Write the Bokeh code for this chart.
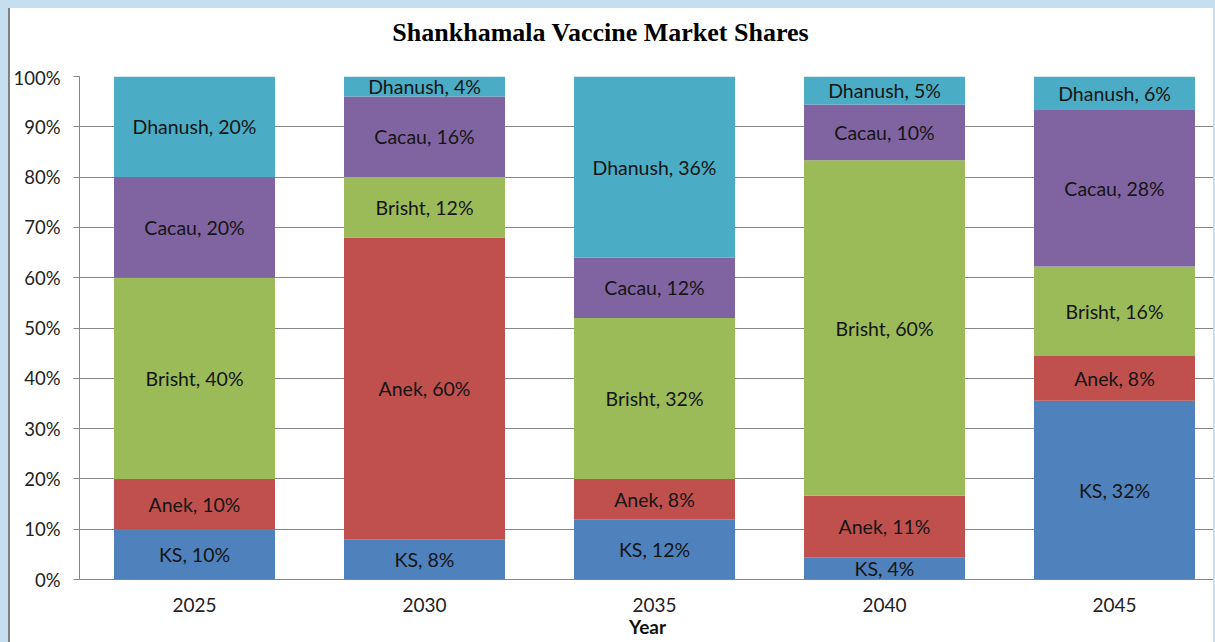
from bokeh.plotting import figure
from bokeh.layouts import column
from bokeh.models import (Range1d, FixedTicker, NumeralTickFormatter, ColumnDataSource,
                          GlobalInlineStyleSheet, Div)
from bokeh.core.properties import value
from bokeh.embed import file_html
from bokeh.resources import INLINE

title = "Shankhamala Vaccine Market Shares"
years = ["2025", "2030", "2035", "2040", "2045"]
series = ["KS", "Anek", "Brisht", "Cacau", "Dhanush"]
ks = [10, 8, 12, 4, 32]
anek = [10, 60, 8, 11, 8]
brisht = [40, 12, 32, 60, 16]
cacau = [20, 16, 12, 10, 28]
dhanush = [20, 4, 36, 5, 6]
colors = ["#4f81bd", "#c0504d", "#9bbb59", "#8064a2", "#4bacc6"]
yticks = [0, 0.1, 0.2, 0.3, 0.4, 0.5, 0.6, 0.7, 0.8, 0.9, 1.0]

values = [ks, anek, brisht, cacau, dhanush]
totals = [sum(v[i] for v in values) for i in range(len(years))]
xs = list(range(len(years)))

FONT = "Lato"

head = Div(text=(f'<div style="width:1181px;text-align:center;padding-top:10px;'
                 f'font-family:\'Liberation Serif\';font-weight:bold;font-size:26px;'
                 f'line-height:30px;color:#000000;">{title}</div>'),
           width=1205, height=58, margin=0,
           styles={"border-left": "2px solid #808080", "background-color": "white"})

p = figure(width=1205, height=576, output_backend="svg", toolbar_location=None,
           x_range=Range1d(-0.5, -0.5 + 1136 / 230), y_range=Range1d(0, 1),
           min_border_left=69, min_border_right=0, min_border_top=10, min_border_bottom=63)
p.styles = {"border-left": "2px solid #808080"}
p.background_fill_color = "white"
p.border_fill_color = "white"
p.outline_line_color = None

bottoms = [0.0] * len(years)
for name, vals, col in zip(series, values, colors):
    shares = [v / t for v, t in zip(vals, totals)]
    tops = [b + s for b, s in zip(bottoms, shares)]
    mids = [(b + t) / 2 for b, t in zip(bottoms, tops)]
    labels = [f"{name}, {v}%" for v in vals]
    src = ColumnDataSource(dict(x=xs, bottom=bottoms, top=tops, mid=mids, label=labels))
    p.vbar(x="x", width=0.7, bottom="bottom", top="top", source=src,
           fill_color=col, line_color=None)
    p.text(x="x", y="mid", text="label", source=src, text_align="center",
           text_baseline="middle", text_font=value(FONT), text_font_size="19.5px",
           text_color="#151515")
    bottoms = tops

p.xgrid.grid_line_color = None
p.ygrid.grid_line_color = "#878787"
p.ygrid.grid_line_width = 1
p.ygrid.ticker = FixedTicker(ticks=yticks)

p.yaxis.ticker = FixedTicker(ticks=yticks)
p.yaxis.formatter = NumeralTickFormatter(format="0%")
p.yaxis.axis_line_color = "#878787"
p.yaxis.major_tick_line_color = "#878787"
p.yaxis.major_tick_out = 6
p.yaxis.major_tick_in = 0
p.yaxis.minor_tick_line_color = None
p.yaxis.major_label_standoff = 13
p.yaxis.major_label_text_font = FONT
p.yaxis.major_label_text_font_size = "18.5px"
p.yaxis.major_label_text_color = "#222222"

p.xaxis.ticker = FixedTicker(ticks=xs)
p.xaxis.major_label_overrides = {i: y for i, y in enumerate(years)}
p.xaxis.axis_line_color = "#878787"
p.xaxis.major_tick_line_color = None
p.xaxis.minor_tick_line_color = None
p.xaxis.major_tick_out = 0
p.xaxis.major_label_standoff = 18
p.xaxis.major_label_text_font = FONT
p.xaxis.major_label_text_font_size = "19px"
p.xaxis.major_label_text_color = "#222222"
p.xaxis.axis_label = "Year"
p.xaxis.axis_label_standoff = 0
p.xaxis.axis_label_text_font = FONT
p.xaxis.axis_label_text_font_style = "bold"
p.xaxis.axis_label_text_font_size = "19px"
p.xaxis.axis_label_text_color = "#111111"

layout = column(head, p, spacing=0)
layout.styles = {"background-color": "white"}
layout.stylesheets = [GlobalInlineStyleSheet(
    css="body{background:#c5dff1 !important; padding:8px 0 0 8px !important; overflow:hidden;}")]

open("out.html", "w").write(file_html(layout, INLINE))
